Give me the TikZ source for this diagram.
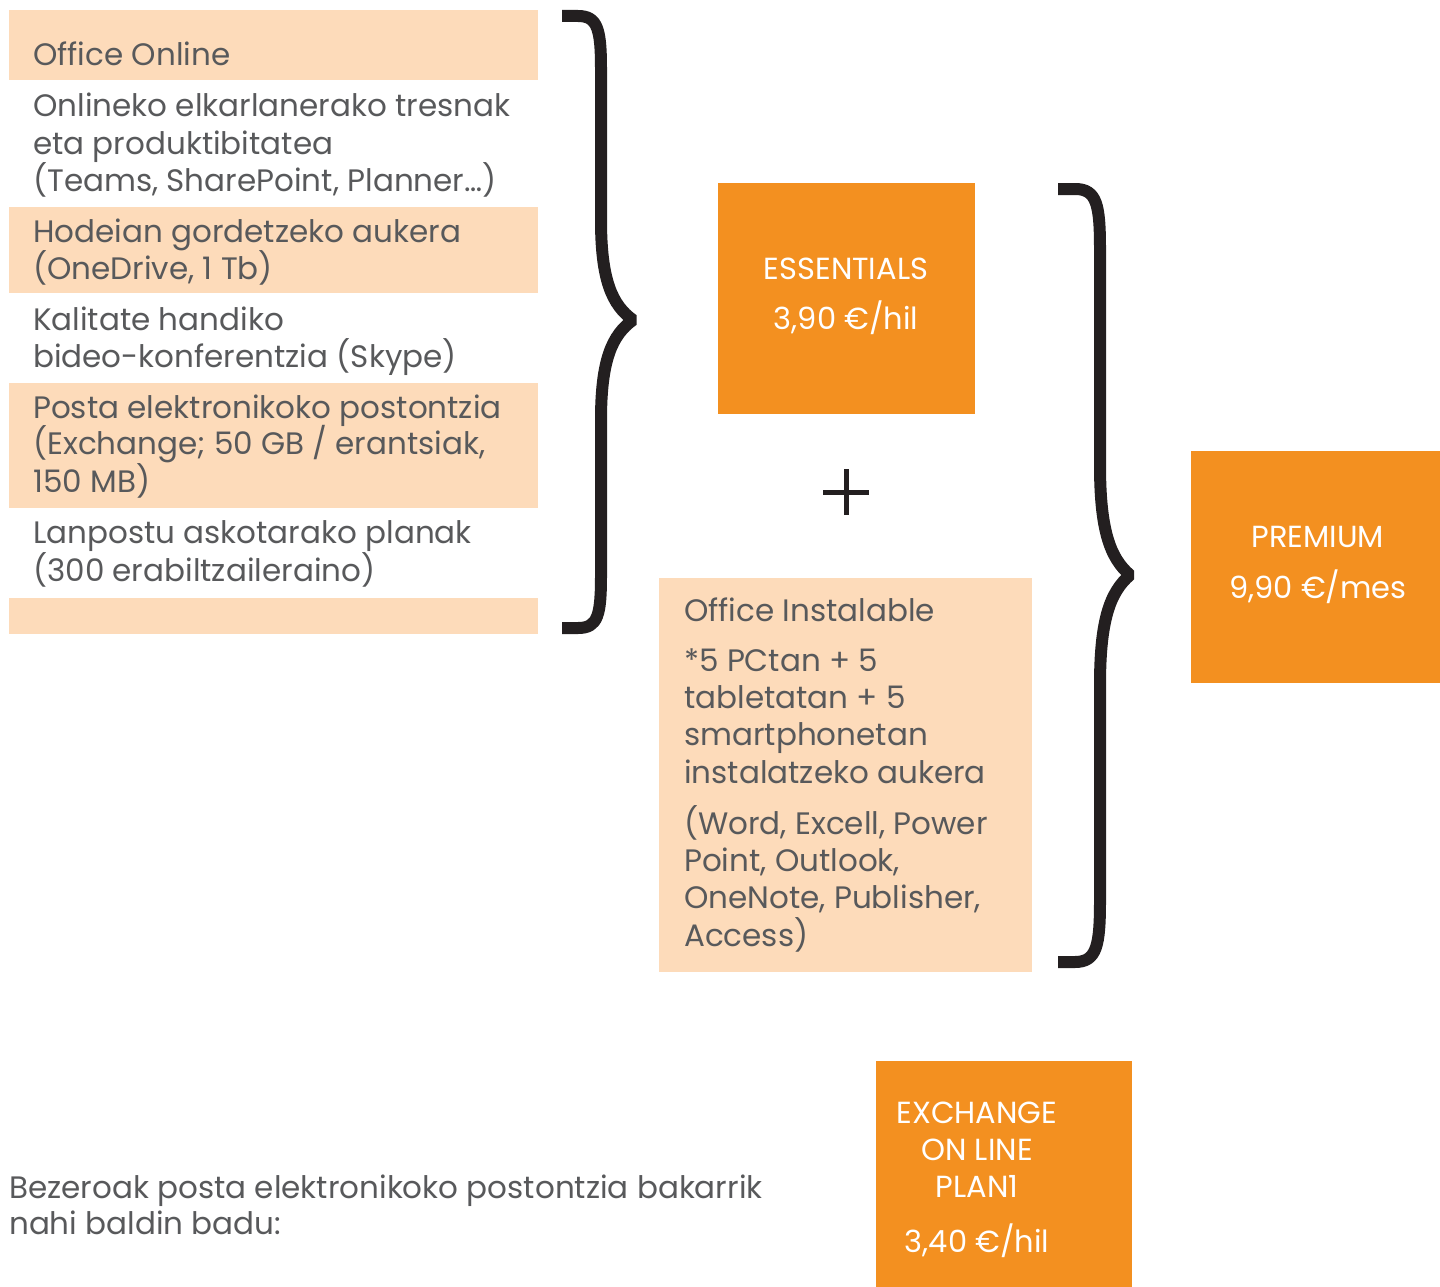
\documentclass[tikz,border=0pt]{standalone}
\usepackage{fontspec}
\setmainfont{Poppins}
\definecolor{peach}{HTML}{FDDBBA}
\definecolor{orng}{HTML}{F39020}
\definecolor{txt}{HTML}{58595B}
\definecolor{brc}{HTML}{231F20}
\tikzset{
  band/.style={fill=peach, draw=none},
  obox/.style={fill=orng, draw=none},
  ln/.style={anchor=base west, inner sep=0pt, text=txt, font=\fontsize{31}{37}\selectfont},
  wl/.style={anchor=base, inner sep=0pt, text=white, font=\fontsize{30.5}{37}\selectfont},
  bracestyle/.style={draw=brc, line width=12pt, line join=bevel},
}
\begin{document}
\begin{tikzpicture}[x=1pt,y=-1pt]
\useasboundingbox (0,0) rectangle (1440,1287);
% left column bands
\path[band] (9,10) rectangle (538,80);
\path[band] (9,207) rectangle (538,293);
\path[band] (9,383) rectangle (538,508);
\path[band] (9,598) rectangle (538,634);
\node[ln] (t1) at (33,66) {Office Online};
\node[ln] (t2) at (33,117) {Onlineko elkarlanerako tresnak};
\node[ln] (t3) at (33,154) {eta produktibitatea};
\node[ln] (t4) at (33,191) {(Teams, SharePoint, Planner…)};
\node[ln] (t5) at (33,242) {Hodeian gordetzeko aukera};
\node[ln] (t6) at (33,279) {(OneDrive, 1 Tb)};
\node[ln] (t7) at (33,330) {Kalitate handiko};
\node[ln] (t8) at (33,367) {bideo-konferentzia (Skype)};
\node[ln] (t9) at (33,418) {Posta elektronikoko postontzia};
\node[ln] (t10) at (33,454) {(Exchange; 50 GB / erantsiak,};
\node[ln] (t11) at (33,492) {150 MB)};
\node[ln] (t12) at (33,543) {Lanpostu askotarako planak};
\node[ln] (t13) at (33,581) {(300 erabiltzaileraino)};
% brace 1
\draw[bracestyle] (562,16) -- (578,16) .. controls (598,16) and (601,30) .. (601,70)
  -- (601,220) .. controls (601,280) and (612,305) .. (633,320)
  .. controls (612,335) and (601,360) .. (601,420)
  -- (601,575) .. controls (601,615) and (598,628) .. (578,628) -- (562,628);
% essentials
\path[obox] (718,183) rectangle (975,414);
\node[wl] (e1) at (846,279) {ESSENTIALS};
\node[wl] (e2) at (846,329) {3,90 €/hil};
% plus
\draw[brc, line width=5pt] (823,492) -- (869,492) (846,469) -- (846,515);
% office instalable
\path[band] (659,578) rectangle (1032,972);
\node[ln] (o1) at (684,621) {Office Instalable};
\node[ln] (o2) at (684,671) {*5 PCtan + 5};
\node[ln] (o3) at (684,708) {tabletatan + 5};
\node[ln] (o4) at (684,745) {smartphonetan};
\node[ln] (o5) at (684,783) {instalatzeko aukera};
\node[ln] (o6) at (684,834) {(Word, Excell, Power};
\node[ln] (o7) at (684,871) {Point, Outlook,};
\node[ln] (o8) at (684,908) {OneNote, Publisher,};
\node[ln] (o9) at (684,946) {Access)};
% brace 2
\draw[bracestyle] (1058,189) -- (1075,189) .. controls (1097,189) and (1100,205) .. (1100,250)
  -- (1100,465) .. controls (1100,530) and (1110,558) .. (1130,575)
  .. controls (1110,592) and (1100,620) .. (1100,685)
  -- (1100,900) .. controls (1100,945) and (1097,962) .. (1075,962) -- (1058,962);
% premium
\path[obox] (1191,451) rectangle (1440,683);
\node[wl] (p1) at (1318,547) {PREMIUM};
\node[wl] (p2) at (1318,598) {9,90 €/mes};
% exchange
\path[obox] (876,1061) rectangle (1132,1287);
\node[wl] (x1) at (977,1123) {EXCHANGE};
\node[wl] (x2) at (977,1160) {ON LINE};
\node[wl] (x3) at (977,1197) {PLAN1};
\node[wl] (x4) at (977,1252) {3,40 €/hil};
% bottom text
\node[ln] (b1) at (9,1198) {Bezeroak posta elektronikoko postontzia bakarrik};
\node[ln] (b2) at (9,1234) {nahi baldin badu:};
\end{tikzpicture}
\end{document}
